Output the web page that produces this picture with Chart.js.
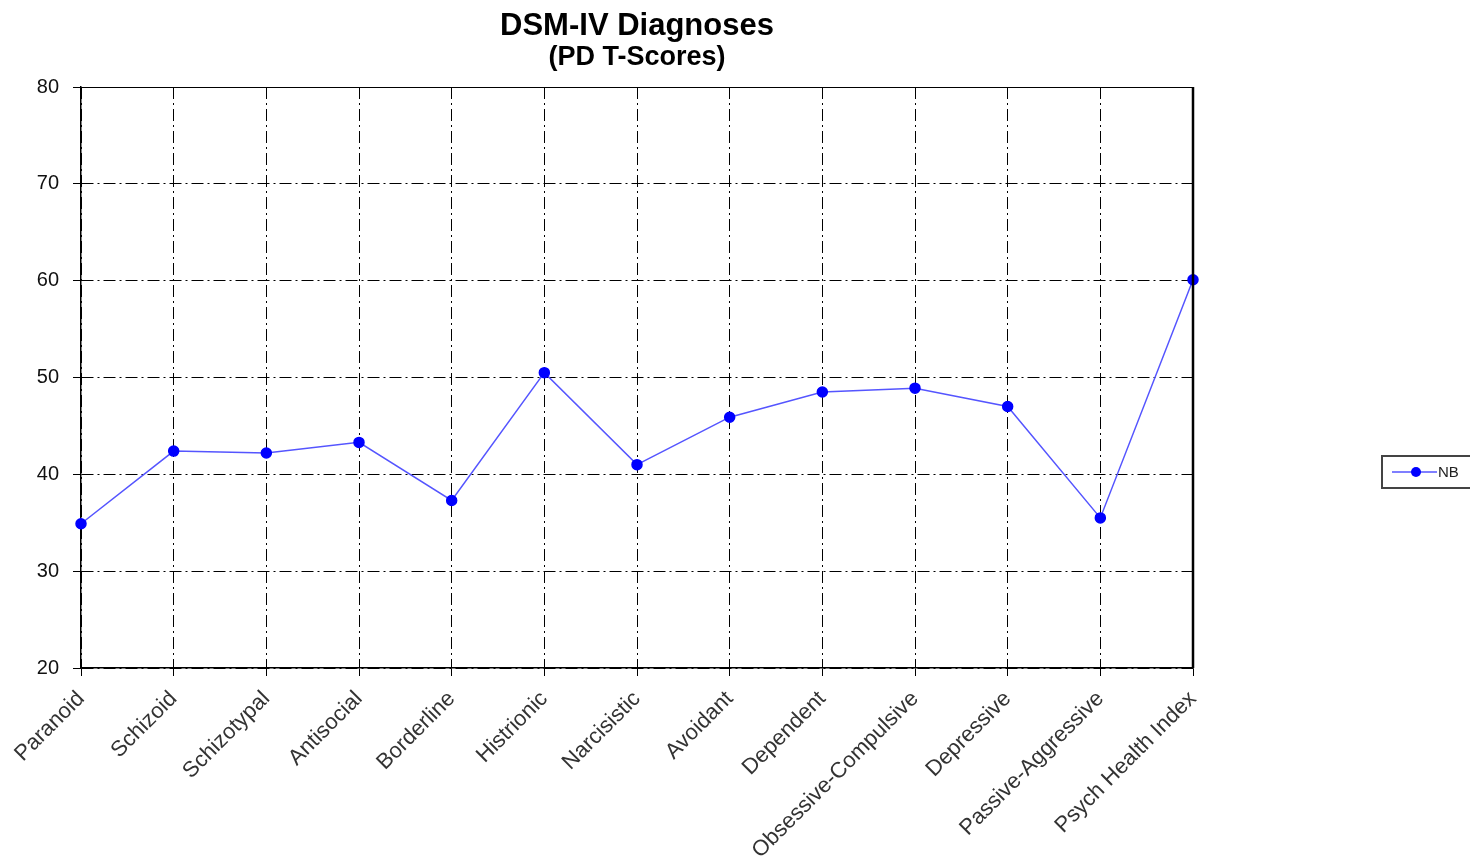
<!DOCTYPE html>
<html>
<head>
<meta charset="utf-8">
<script src="https://cdn.jsdelivr.net/npm/chart.js@4.4.1/dist/chart.umd.min.js"></script>
<style>
  html, body { margin: 0; padding: 0; background: #ffffff; }
  #wrap { width: 1470px; height: 861px; position: relative; }
</style>
</head>
<body>
<div id="wrap"><canvas id="c" width="1470" height="861"></canvas></div>
<script>
const categories = ["Paranoid", "Schizoid", "Schizotypal", "Antisocial", "Borderline", "Histrionic", "Narcisistic", "Avoidant", "Dependent", "Obsessive-Compulsive", "Depressive", "Passive-Aggressive", "Psych Health Index"];
const seriesName = "NB";
const nbValues = [34.9, 42.4, 42.2, 43.3, 37.3, 50.5, 41.0, 45.9, 48.5, 48.9, 47.0, 35.5, 60.1];
const yTicks = [20, 30, 40, 50, 60, 70, 80];
const titleText = "DSM-IV Diagnoses";
const subtitleText = "(PD T-Scores)";

const FONT = "'Liberation Sans', Arial, sans-serif";
const DASH = [12, 4, 2, 4];

const framePlugin = {
  id: 'frame',
  afterDraw(chart) {
    const { ctx, chartArea: a } = chart;
    ctx.save();
    ctx.setLineDash([]);
    ctx.strokeStyle = '#000';
    ctx.lineWidth = 1;
    ctx.beginPath();
    ctx.moveTo(a.left, a.top + 0.5);
    ctx.lineTo(a.right, a.top + 0.5);
    ctx.stroke();
    ctx.lineWidth = 2.5;
    ctx.beginPath();
    ctx.moveTo(a.right, a.top);
    ctx.lineTo(a.right, a.bottom);
    ctx.stroke();
    ctx.restore();
  }
};

const legendPlugin = {
  id: 'boxLegend',
  afterDraw(chart) {
    const { ctx } = chart;
    const ds = chart.data.datasets[0];
    const x = 1382, y = 456, w = 100, h = 32;
    ctx.save();
    ctx.setLineDash([]);
    ctx.strokeStyle = '#444';
    ctx.lineWidth = 2;
    ctx.strokeRect(x, y, w, h);
    const cy = y + h / 2;
    ctx.strokeStyle = ds.borderColor;
    ctx.lineWidth = 1.5;
    ctx.beginPath();
    ctx.moveTo(x + 10, cy);
    ctx.lineTo(x + 55, cy);
    ctx.stroke();
    ctx.fillStyle = ds.pointBackgroundColor;
    ctx.beginPath();
    ctx.arc(x + 34, cy, 5, 0, Math.PI * 2);
    ctx.fill();
    ctx.fillStyle = '#222';
    ctx.font = "15px " + FONT;
    ctx.textBaseline = 'middle';
    ctx.textAlign = 'left';
    ctx.fillText(ds.label, x + 56, cy + 1);
    ctx.restore();
  }
};

new Chart(document.getElementById('c'), {
  type: 'line',
  data: {
    labels: categories,
    datasets: [{
      label: seriesName,
      data: nbValues,
      borderColor: '#5555ff',
      borderWidth: 1.5,
      pointBackgroundColor: '#0000ff',
      pointBorderColor: '#0000ff',
      pointRadius: 5,
      pointHoverRadius: 5,
      tension: 0,
      fill: false
    }]
  },
  options: {
    responsive: false,
    animation: false,
    devicePixelRatio: 1,
    layout: { padding: { left: 0, right: 277, top: 0, bottom: 0 } },
    plugins: {
      legend: { display: false },
      tooltip: { enabled: false },
      title: {
        display: true,
        text: titleText,
        fullSize: false,
        color: '#000',
        font: { family: FONT, size: 31, weight: 'bold', lineHeight: 1.0 },
        padding: { top: 11, bottom: 0 }
      },
      subtitle: {
        display: true,
        text: subtitleText,
        fullSize: false,
        color: '#000',
        font: { family: FONT, size: 27, weight: 'bold', lineHeight: 1.0 },
        padding: { top: 2.5, bottom: 15.5 }
      }
    },
    scales: {
      x: {
        offset: false,
        afterFit(scale) { scale.height = 193; },
        grid: {
          color: '#000',
          lineWidth: 1,
          borderDash: DASH,
          drawTicks: true,
          tickLength: 8,
          tickColor: '#000',
          tickBorderDash: []
        },
        border: { display: true, color: '#000', width: 1.5, dash: DASH },
        ticks: {
          autoSkip: false,
          maxRotation: 45,
          minRotation: 45,
          color: '#333',
          padding: 10,
          font: { family: FONT, size: 22 }
        }
      },
      y: {
        min: 20,
        max: 80,
        afterFit(scale) { scale.width = 81; },
        afterBuildTicks(scale) { scale.ticks = yTicks.map(v => ({ value: v })); },
        grid: {
          color: '#000',
          lineWidth: 1,
          borderDash: DASH,
          drawTicks: true,
          tickLength: 8,
          tickColor: '#000',
          tickBorderDash: []
        },
        border: { display: true, color: '#000', width: 1.5, dash: DASH },
        ticks: {
          color: '#111',
          padding: 14,
          font: { family: FONT, size: 20 }
        }
      }
    }
  },
  plugins: [framePlugin, legendPlugin]
});
</script>
</body>
</html>
